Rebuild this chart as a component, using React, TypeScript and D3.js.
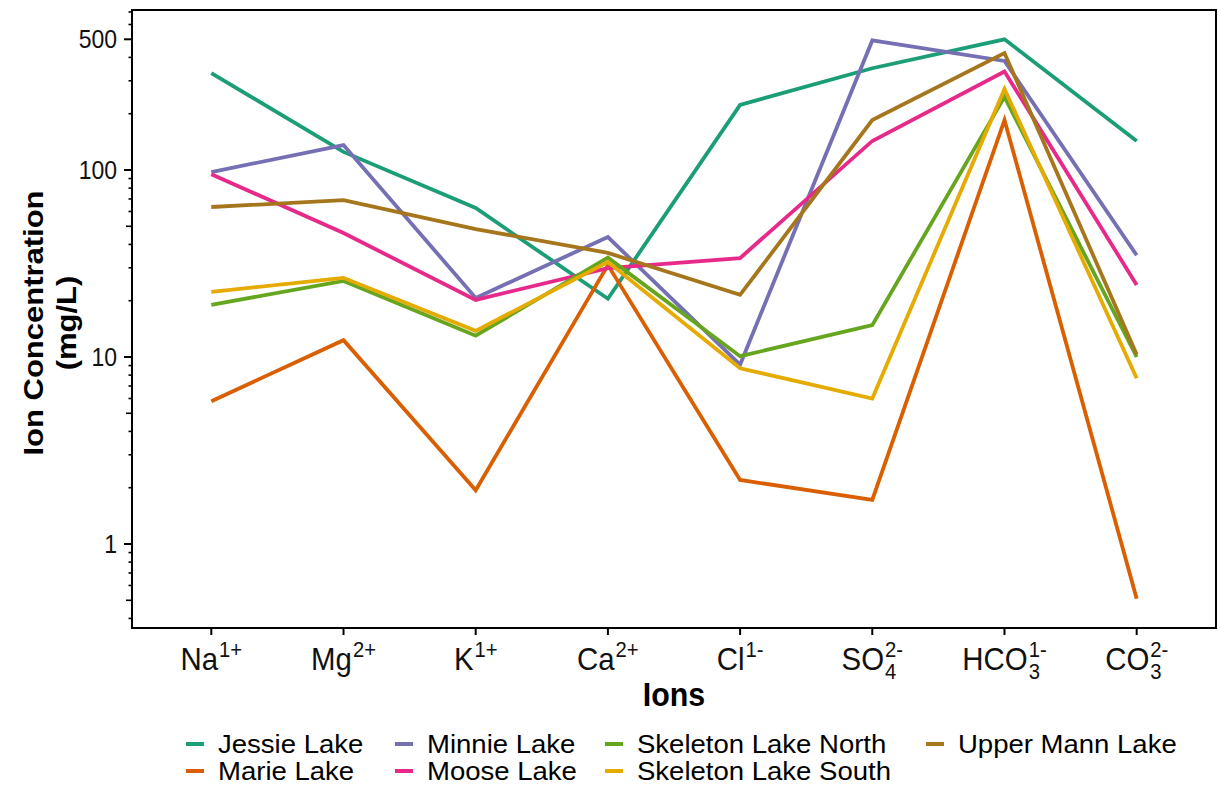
import React, { useEffect, useRef } from "react";
import * as d3 from "d3";

const ionBase = ["Na", "Mg", "K", "Ca", "Cl", "SO", "HCO", "CO"];
const ionSub = ["", "", "", "", "", "4", "3", "3"];
const ionSup = ["1+", "2+", "1+", "2+", "1-", "2-", "1-", "2-"];

const lakeNames = [
  "Jessie Lake",
  "Marie Lake",
  "Minnie Lake",
  "Moose Lake",
  "Skeleton Lake North",
  "Skeleton Lake South",
  "Upper Mann Lake",
];
const lakeColors = ["#1B9E77", "#D95F02", "#7570B3", "#E7298A", "#66A61E", "#E6AB02", "#A6761D"];

const jessie = [330, 125, 62.6, 20.5, 223, 350, 500, 143];
const marie = [5.8, 12.3, 1.94, 31, 2.2, 1.72, 185, 0.51];
const minnie = [97.5, 136, 20.7, 43.8, 9.1, 493, 383, 35];
const moose = [95, 46, 20.2, 29.9, 33.8, 143, 336, 24.3];
const skeletonNorth = [19.0, 25.5, 13.0, 34.0, 10.1, 14.8, 246, 10.0];
const skeletonSouth = [22.3, 26.5, 13.8, 32.2, 8.7, 6.0, 271, 7.7];
const upperMann = [63.4, 69, 48.3, 36, 21.5, 185, 422, 10.3];

const seriesValues = [jessie, marie, minnie, moose, skeletonNorth, skeletonSouth, upperMann];

const yMajorTicks = [1, 10, 100, 500];

const FONT = "'Liberation Sans', Arial, Helvetica, sans-serif";
const SX = 0.92;

export default function App() {
  const ref = useRef<SVGSVGElement>(null);

  useEffect(() => {
    const svg = d3.select(ref.current);
    svg.selectAll("*").remove();

    const left = 132, right = 1216, top = 10, bottom = 628;

    const x = d3.scalePoint<number>().domain(d3.range(ionBase.length)).range([left, right]).padding(0.6);
    const y = d3
      .scaleLog()
      .domain([Math.pow(10, -(bottom - 544) / 187), Math.pow(10, (544 - top) / 187)])
      .range([bottom, top]);

    const g = svg.append("g");

    const line = d3
      .line<number>()
      .x((_, i) => x(i) as number)
      .y((d) => y(d));

    seriesValues.forEach((vals, k) => {
      g.append("path")
        .attr("d", line(vals))
        .attr("fill", "none")
        .attr("stroke", lakeColors[k])
        .attr("stroke-width", 3.8)
        .attr("stroke-linejoin", "miter");
    });

    g.append("rect")
      .attr("x", left)
      .attr("y", top)
      .attr("width", right - left)
      .attr("height", bottom - top)
      .attr("fill", "none")
      .attr("stroke", "#000")
      .attr("stroke-width", 2);

    const [d0, d1] = y.domain();
    const allTicks: number[] = [];
    for (let e = -1; e <= 2; e++) {
      for (let m = 1; m <= 9; m++) {
        const v = m * Math.pow(10, e);
        if (v >= d0 && v <= d1) allTicks.push(v);
      }
    }
    allTicks.forEach((v) => {
      const isMajor = yMajorTicks.includes(v);
      const m = Math.round(v / Math.pow(10, Math.floor(Math.log10(v) + 1e-9)));
      const len = isMajor ? 8 : m === 5 ? 6 : 3.5;
      g.append("line")
        .attr("x1", left - len)
        .attr("x2", left)
        .attr("y1", y(v))
        .attr("y2", y(v))
        .attr("stroke", "#000")
        .attr("stroke-width", isMajor ? 2 : 1.6);
    });
    yMajorTicks.forEach((v) => {
      g.append("text")
        .attr("transform", `translate(${117},${y(v) + 9}) scale(${SX},1)`)
        .attr("text-anchor", "end")
        .attr("font-family", FONT)
        .attr("font-size", 25)
        .attr("fill", "#111")
        .text(String(v));
    });

    ionBase.forEach((b, i) => {
      const cx = x(i) as number;
      g.append("line")
        .attr("x1", cx)
        .attr("x2", cx)
        .attr("y1", bottom)
        .attr("y2", bottom + 7)
        .attr("stroke", "#000")
        .attr("stroke-width", 2);

      const lg = g.append("g");
      const inner = lg.append("g");
      const baseT = inner
        .append("text")
        .attr("x", 0)
        .attr("y", 0)
        .attr("font-family", FONT)
        .attr("font-size", 32)
        .attr("fill", "#111")
        .text(b);
      const bw = (baseT.node() as SVGTextElement).getComputedTextLength();
      let sw = 0;
      if (ionSub[i]) {
        const st = inner
          .append("text")
          .attr("x", bw + 1)
          .attr("y", 9)
          .attr("font-family", FONT)
          .attr("font-size", 22)
          .attr("fill", "#111")
          .text(ionSub[i]);
        sw = (st.node() as SVGTextElement).getComputedTextLength();
      }
      const pt = inner
        .append("text")
        .attr("x", bw + 1)
        .attr("y", -13)
        .attr("font-family", FONT)
        .attr("font-size", 22)
        .attr("fill", "#111")
        .text(ionSup[i]);
      const pw = (pt.node() as SVGTextElement).getComputedTextLength();
      const total = bw + 1 + Math.max(sw, pw);
      inner.attr("transform", `translate(${-total / 2},0)`);
      lg.attr("transform", `translate(${cx},${670}) scale(${SX},1)`);
    });

    g.append("text")
      .attr("transform", `translate(${(left + right) / 2},${706}) scale(${SX},1)`)
      .attr("text-anchor", "middle")
      .attr("font-family", FONT)
      .attr("font-weight", "bold")
      .attr("font-size", 33)
      .attr("fill", "#000")
      .text("Ions");

    const yc = (top + bottom) / 2 + 4;
    [
      ["Ion Concentration", 43],
      ["(mg/L)", 76],
    ].forEach(([t, bx]) => {
      g.append("text")
        .attr("transform", `translate(${bx},${yc}) scale(${SX},1) rotate(-90)`)
        .attr("text-anchor", "middle")
        .attr("font-family", FONT)
        .attr("font-weight", "bold")
        .attr("font-size", 31)
        .attr("fill", "#000")
        .text(t as string);
    });

    const colKeyX = [186, 395, 605, 926];
    const rowY = [744, 771];
    lakeNames.forEach((name, k) => {
      const col = Math.floor(k / 2);
      const row = k % 2;
      const kx = colKeyX[col];
      const ky = rowY[row];
      g.append("line")
        .attr("x1", kx)
        .attr("x2", kx + 18)
        .attr("y1", ky)
        .attr("y2", ky)
        .attr("stroke", lakeColors[k])
        .attr("stroke-width", 4);
      g.append("text")
        .attr("transform", `translate(${kx + 32},${ky + 9}) scale(1.08,1)`)
        .attr("font-family", FONT)
        .attr("font-size", 25.5)
        .attr("fill", "#000")
        .text(name);
    });
  }, []);

  return (
    <div style={{ position: "absolute", left: 0, top: 0 }}>
      <svg ref={ref} width={1220} height={786} style={{ display: "block", background: "#fff" }} />
    </div>
  );
}
